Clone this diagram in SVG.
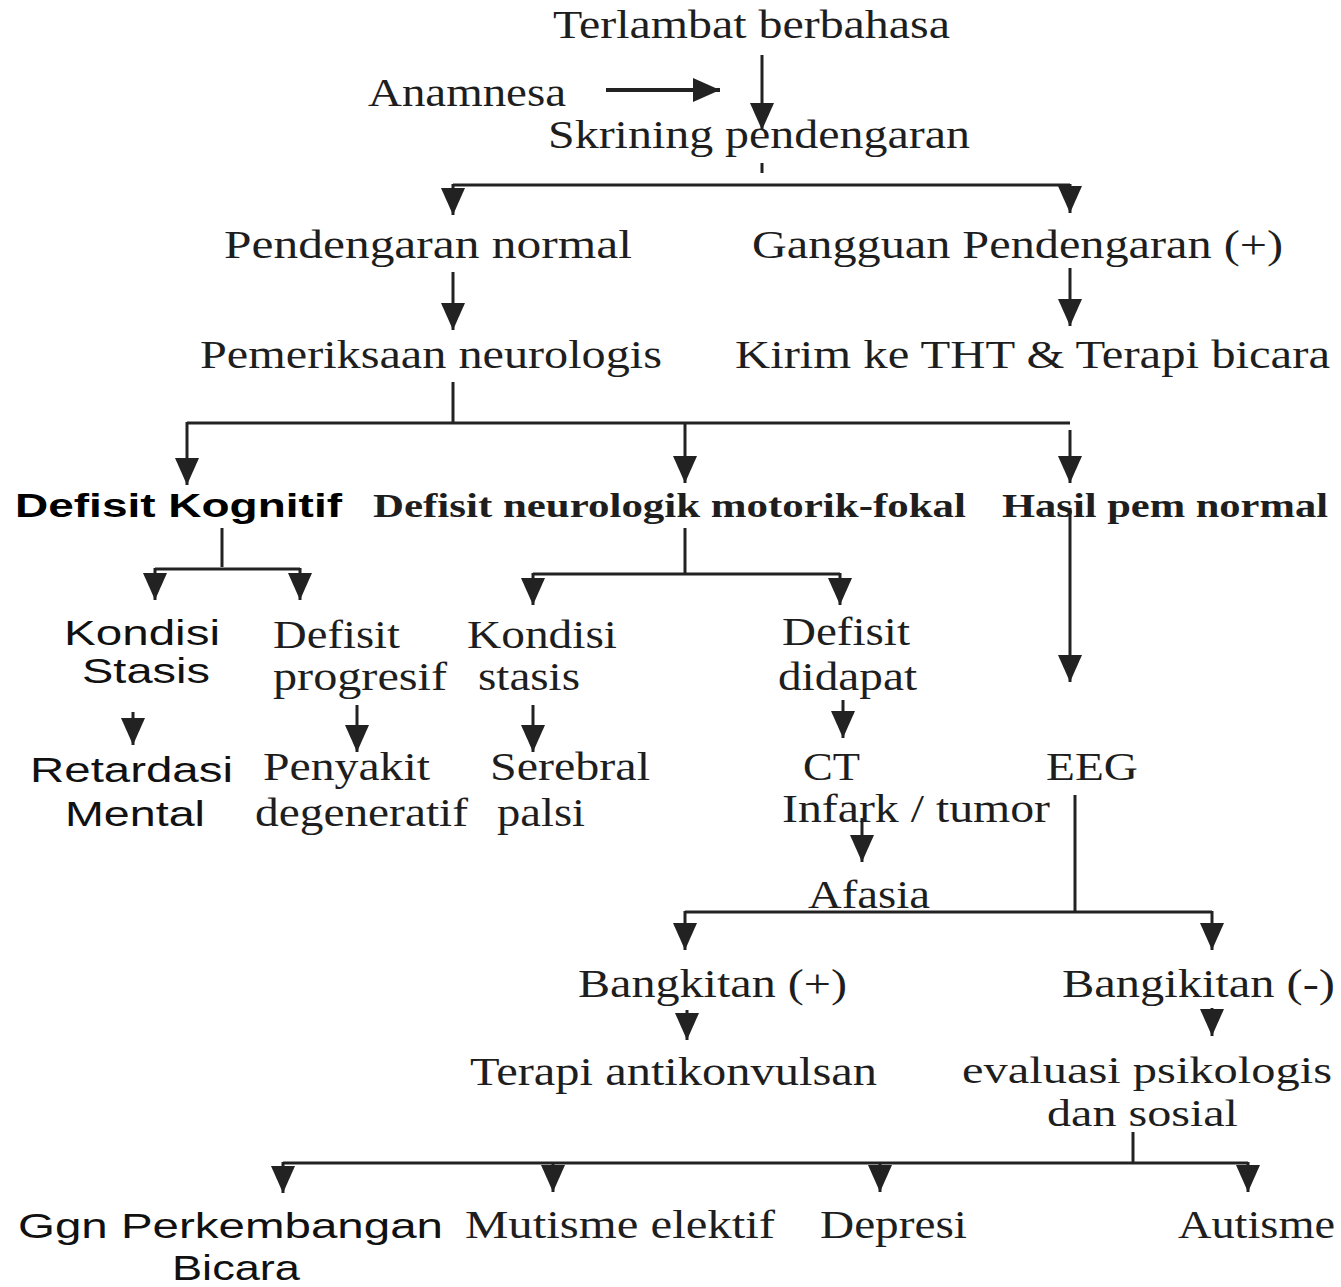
<svg xmlns="http://www.w3.org/2000/svg" width="1341" height="1287" viewBox="0 0 1341 1287">
<style>
.s{font-family:"Liberation Serif","Times New Roman",serif;font-size:40px;fill:#1e1e1e}
.a{font-family:"Liberation Sans",Arial,sans-serif;font-size:35px;fill:#111}
.bs{font-family:"Liberation Sans",Arial,sans-serif;font-size:33px;font-weight:bold;fill:#000}
.bf{font-family:"Liberation Serif","Times New Roman",serif;font-size:34px;font-weight:bold;fill:#1e1e1e}
.c line,.c path{stroke:#222;stroke-width:3;fill:none}
</style>
<defs>
<marker id="ah" viewBox="0 0 27 24" refX="27" refY="12" markerWidth="27" markerHeight="24" markerUnits="userSpaceOnUse" orient="auto">
<path d="M0,0 L27,12 L0,24 z" fill="#222"/>
</marker>
</defs>
<rect width="1341" height="1287" fill="#fff"/>
<g class="c" id="connectors">
<line x1="762" y1="55" x2="762" y2="130" marker-end="url(#ah)"/>
<line x1="606" y1="90" x2="720" y2="90" marker-end="url(#ah)" style="stroke-width:4"/>
<line x1="762" y1="163" x2="762" y2="173"/>
<path d="M453,185 H1070"/>
<line x1="453" y1="184" x2="453" y2="215" marker-end="url(#ah)"/>
<line x1="1070" y1="184" x2="1070" y2="213" marker-end="url(#ah)"/>
<line x1="453" y1="272" x2="453" y2="330" marker-end="url(#ah)"/>
<line x1="1070" y1="268" x2="1070" y2="326" marker-end="url(#ah)"/>
<line x1="453" y1="382" x2="453" y2="423"/>
<line x1="187" y1="423" x2="1070" y2="423"/>
<line x1="187" y1="422" x2="187" y2="485" marker-end="url(#ah)"/>
<line x1="685" y1="422" x2="685" y2="483" marker-end="url(#ah)"/>
<line x1="1070" y1="430" x2="1070" y2="483" marker-end="url(#ah)"/>
<line x1="222" y1="528" x2="222" y2="567"/>
<path d="M155,569 H300"/>
<line x1="155" y1="568" x2="155" y2="600" marker-end="url(#ah)"/>
<line x1="300" y1="568" x2="300" y2="600" marker-end="url(#ah)"/>
<line x1="685" y1="528" x2="685" y2="574"/>
<path d="M533,574 H840"/>
<line x1="533" y1="573" x2="533" y2="605" marker-end="url(#ah)"/>
<line x1="840" y1="573" x2="840" y2="605" marker-end="url(#ah)"/>
<line x1="1070" y1="508" x2="1070" y2="682" marker-end="url(#ah)"/>
<line x1="133" y1="712" x2="133" y2="745" marker-end="url(#ah)"/>
<line x1="357" y1="705" x2="357" y2="752" marker-end="url(#ah)"/>
<line x1="533" y1="705" x2="533" y2="752" marker-end="url(#ah)"/>
<line x1="843" y1="700" x2="843" y2="738" marker-end="url(#ah)"/>
<line x1="862" y1="818" x2="862" y2="862" marker-end="url(#ah)"/>
<line x1="1075" y1="795" x2="1075" y2="912"/>
<line x1="685" y1="912" x2="1212" y2="912"/>
<line x1="685" y1="911" x2="685" y2="950" marker-end="url(#ah)"/>
<line x1="1212" y1="911" x2="1212" y2="950" marker-end="url(#ah)"/>
<line x1="687" y1="1010" x2="687" y2="1040" marker-end="url(#ah)"/>
<line x1="1212" y1="1008" x2="1212" y2="1036" marker-end="url(#ah)"/>
<line x1="1133" y1="1132" x2="1133" y2="1162"/>
<line x1="283" y1="1163" x2="1248" y2="1163"/>
<line x1="283" y1="1162" x2="283" y2="1193" marker-end="url(#ah)"/>
<line x1="553" y1="1162" x2="553" y2="1192" marker-end="url(#ah)"/>
<line x1="880" y1="1162" x2="880" y2="1192" marker-end="url(#ah)"/>
<line x1="1248" y1="1162" x2="1248" y2="1192" marker-end="url(#ah)"/>
</g>
<g id="n-terlambat"><text class="s" x="553" y="38" textLength="397" lengthAdjust="spacingAndGlyphs">Terlambat berbahasa</text></g>
<g id="n-anamnesa"><text class="s" x="368" y="106" textLength="198" lengthAdjust="spacingAndGlyphs">Anamnesa</text></g>
<g id="n-skrining"><text class="s" x="548" y="148" textLength="422" lengthAdjust="spacingAndGlyphs">Skrining pendengaran</text></g>
<g id="n-normal"><text class="s" x="224" y="258" textLength="408" lengthAdjust="spacingAndGlyphs">Pendengaran  normal</text></g>
<g id="n-gangguan"><text class="s" x="752" y="258" textLength="531" lengthAdjust="spacingAndGlyphs">Gangguan Pendengaran (+)</text></g>
<g id="n-neuro"><text class="s" x="200" y="368" textLength="462" lengthAdjust="spacingAndGlyphs">Pemeriksaan neurologis</text></g>
<g id="n-kirim"><text class="s" x="735" y="368" textLength="595" lengthAdjust="spacingAndGlyphs">Kirim ke THT &amp; Terapi bicara</text></g>
<g id="n-kognitif"><text class="bs" x="15" y="517" textLength="327" lengthAdjust="spacingAndGlyphs">Defisit Kognitif</text></g>
<g id="n-motorik"><text class="bf" x="373" y="517" textLength="593" lengthAdjust="spacingAndGlyphs">Defisit neurologik motorik-fokal</text></g>
<g id="n-hasil"><text class="bf" x="1002" y="517" textLength="326" lengthAdjust="spacingAndGlyphs">Hasil pem normal</text></g>
<g id="n-kondisi1"><text class="a" x="64" y="645" textLength="156" lengthAdjust="spacingAndGlyphs">Kondisi</text><text class="a" x="82" y="683" textLength="128" lengthAdjust="spacingAndGlyphs">Stasis</text></g>
<g id="n-progresif"><text class="s" x="273" y="648" textLength="127" lengthAdjust="spacingAndGlyphs">Defisit</text><text class="s" x="273" y="690" textLength="174" lengthAdjust="spacingAndGlyphs">progresif</text></g>
<g id="n-kondisi2"><text class="s" x="467" y="648" textLength="150" lengthAdjust="spacingAndGlyphs">Kondisi</text><text class="s" x="478" y="690" textLength="102" lengthAdjust="spacingAndGlyphs">stasis</text></g>
<g id="n-didapat"><text class="s" x="782" y="645" textLength="128" lengthAdjust="spacingAndGlyphs">Defisit</text><text class="s" x="778" y="690" textLength="139" lengthAdjust="spacingAndGlyphs">didapat</text></g>
<g id="n-retardasi"><text class="a" x="30" y="782" textLength="203" lengthAdjust="spacingAndGlyphs">Retardasi</text><text class="a" x="65" y="826" textLength="140" lengthAdjust="spacingAndGlyphs">Mental</text></g>
<g id="n-penyakit"><text class="s" x="263" y="780" textLength="167" lengthAdjust="spacingAndGlyphs">Penyakit</text><text class="s" x="255" y="826" textLength="213" lengthAdjust="spacingAndGlyphs">degeneratif</text></g>
<g id="n-serebral"><text class="s" x="490" y="780" textLength="160" lengthAdjust="spacingAndGlyphs">Serebral</text><text class="s" x="497" y="826" textLength="88" lengthAdjust="spacingAndGlyphs">palsi</text></g>
<g id="n-ct"><text class="s" x="803" y="780" textLength="57" lengthAdjust="spacingAndGlyphs">CT</text><text class="s" x="782" y="822" textLength="268" lengthAdjust="spacingAndGlyphs">Infark / tumor</text></g>
<g id="n-eeg"><text class="s" x="1046" y="780" textLength="92" lengthAdjust="spacingAndGlyphs">EEG</text></g>
<g id="n-afasia"><text class="s" x="808" y="908" textLength="122" lengthAdjust="spacingAndGlyphs">Afasia</text></g>
<g id="n-bangplus"><text class="s" x="578" y="997" textLength="269" lengthAdjust="spacingAndGlyphs">Bangkitan (+)</text></g>
<g id="n-bangmin"><text class="s" x="1062" y="997" textLength="273" lengthAdjust="spacingAndGlyphs">Bangikitan (-)</text></g>
<g id="n-terapi"><text class="s" x="470" y="1085" textLength="407" lengthAdjust="spacingAndGlyphs">Terapi antikonvulsan</text></g>
<g id="n-evaluasi"><text class="s" x="962" y="1083" textLength="370" lengthAdjust="spacingAndGlyphs" style="font-size:38px">evaluasi psikologis</text><text class="s" x="1047" y="1126" textLength="191" lengthAdjust="spacingAndGlyphs" style="font-size:38px">dan sosial</text></g>
<g id="n-ggn"><text class="a" x="18" y="1238" textLength="425" lengthAdjust="spacingAndGlyphs">Ggn Perkembangan</text><text class="a" x="172" y="1280" textLength="128" lengthAdjust="spacingAndGlyphs">Bicara</text></g>
<g id="n-mutisme"><text class="s" x="465" y="1238" textLength="310" lengthAdjust="spacingAndGlyphs">Mutisme elektif</text></g>
<g id="n-depresi"><text class="s" x="820" y="1238" textLength="147" lengthAdjust="spacingAndGlyphs">Depresi</text></g>
<g id="n-autisme"><text class="s" x="1178" y="1238" textLength="157" lengthAdjust="spacingAndGlyphs">Autisme</text></g>
</svg>
